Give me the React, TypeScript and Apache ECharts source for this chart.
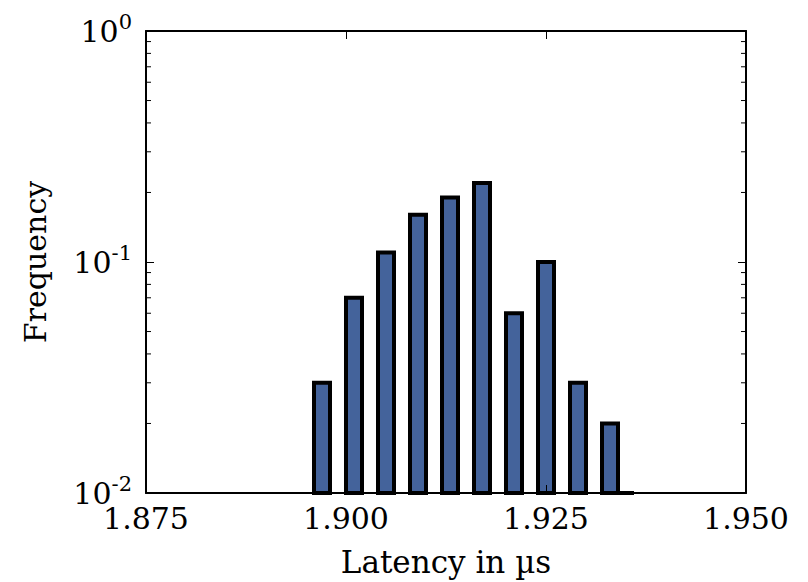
import React, { useEffect, useRef } from "react";
import * as echarts from "echarts";

const binStart = [1.896, 1.9, 1.904, 1.908, 1.912, 1.916, 1.92, 1.924, 1.928, 1.932, 1.934];
const binEnd = [1.898, 1.902, 1.906, 1.91, 1.914, 1.918, 1.922, 1.926, 1.93, 1.934, 1.936];
const frequency = [0.03, 0.07, 0.11, 0.16, 0.19, 0.22, 0.06, 0.1, 0.03, 0.02, 0.01];

const xRange = [1.875, 1.95];
const xInterval = 0.025;
const yRange = [0.01, 1];
const yMinorTicks = [0.02, 0.03, 0.04, 0.05, 0.06, 0.07, 0.08, 0.09, 0.2, 0.3, 0.4, 0.5, 0.6, 0.7, 0.8, 0.9];

const FONT = "DejaVu Serif";
const BAR_COLOR = "#44639b";

export default function App() {
  const ref = useRef<HTMLDivElement>(null);
  useEffect(() => {
    if (!ref.current) return;
    const chart = echarts.init(ref.current, undefined, { renderer: "svg" });
    const tickStyle = { show: true, inside: true, length: 8, lineStyle: { color: "#000", width: 1 } };
    const lineStyle = { show: true, lineStyle: { color: "#000", width: 2 } };
    const yLabel = (v: number) => {
      const e = Math.round(Math.log10(v));
      return `{b|10}{s|${e}}`;
    };
    chart.setOption({
      animation: false,
      backgroundColor: "#fff",
      textStyle: { fontFamily: FONT },
      grid: { left: 146, right: 62, top: 31, bottom: 88, containLabel: false },
      xAxis: [
        {
          type: "value",
          min: xRange[0],
          max: xRange[1],
          interval: xInterval,
          z: 10,
          axisLine: lineStyle,
          axisTick: tickStyle,
          splitLine: { show: false },
          axisLabel: {
            fontFamily: FONT,
            fontSize: 30,
            color: "#000",
            margin: 10,
            formatter: (v: number) => v.toFixed(3),
          },
          name: "Latency in µs",
          nameLocation: "middle",
          nameGap: 53,
          nameTextStyle: { fontFamily: FONT, fontSize: 31, color: "#000" },
        },
        {
          type: "value",
          position: "top",
          min: xRange[0],
          max: xRange[1],
          interval: xInterval,
          z: 10,
          axisLine: lineStyle,
          axisTick: tickStyle,
          splitLine: { show: false },
          axisLabel: { show: false },
        },
      ],
      yAxis: [
        {
          type: "log",
          logBase: 10,
          min: yRange[0],
          max: yRange[1],
          z: 10,
          axisLine: lineStyle,
          axisTick: tickStyle,
          splitLine: { show: false },
          axisLabel: {
            fontFamily: FONT,
            color: "#000",
            margin: 14,
            formatter: yLabel,
            rich: {
              b: { fontFamily: FONT, fontSize: 30, color: "#000" },
              s: { fontFamily: FONT, fontSize: 21, color: "#000", padding: [0, 0, 18, 0] },
            },
          },
          name: "Frequency",
          nameLocation: "middle",
          nameGap: 96,
          nameTextStyle: { fontFamily: FONT, fontSize: 30, color: "#000" },
        },
        {
          type: "log",
          logBase: 10,
          position: "right",
          min: yRange[0],
          max: yRange[1],
          z: 10,
          axisLine: lineStyle,
          axisTick: tickStyle,
          splitLine: { show: false },
          axisLabel: { show: false },
        },
      ],
      series: [
        {
          type: "custom",
          xAxisIndex: 0,
          yAxisIndex: 0,
          clip: false,
          z: 2,
          encode: { x: [0, 1], y: 2 },
          data: binStart.map((s, i) => [s, binEnd[i], frequency[i]]),
          renderItem: (params: any, api: any) => {
            const p0 = api.coord([api.value(0), api.value(2)]);
            const p1 = api.coord([api.value(1), yRange[0]]);
            return {
              type: "polygon",
              shape: {
                points: [
                  [p0[0], p1[1]],
                  [p0[0], p0[1]],
                  [p1[0], p0[1]],
                  [p1[0], p1[1]],
                ],
              },
              style: { fill: BAR_COLOR, stroke: "#000", lineWidth: 4, lineJoin: "miter" },
            };
          },
        },
        {
          type: "custom",
          xAxisIndex: 0,
          yAxisIndex: 0,
          clip: false,
          z: 20,
          silent: true,
          encode: { x: 0, y: 1 },
          data: yMinorTicks.map((v) => [xRange[0], v]),
          renderItem: (params: any, api: any) => {
            const l = api.coord([xRange[0], api.value(1)]);
            const r = api.coord([xRange[1], api.value(1)]);
            return {
              type: "group",
              children: [
                { type: "line", shape: { x1: l[0], y1: l[1], x2: l[0] + 5, y2: l[1] }, style: { stroke: "#000", lineWidth: 1 } },
                { type: "line", shape: { x1: r[0], y1: r[1], x2: r[0] - 5, y2: r[1] }, style: { stroke: "#000", lineWidth: 1 } },
              ],
            };
          },
        },
      ],
    });
    return () => chart.dispose();
  }, []);
  return (
    <div
      ref={ref}
      style={{ position: "fixed", left: 0, top: 0, width: 808, height: 582, background: "#fff" }}
    />
  );
}
